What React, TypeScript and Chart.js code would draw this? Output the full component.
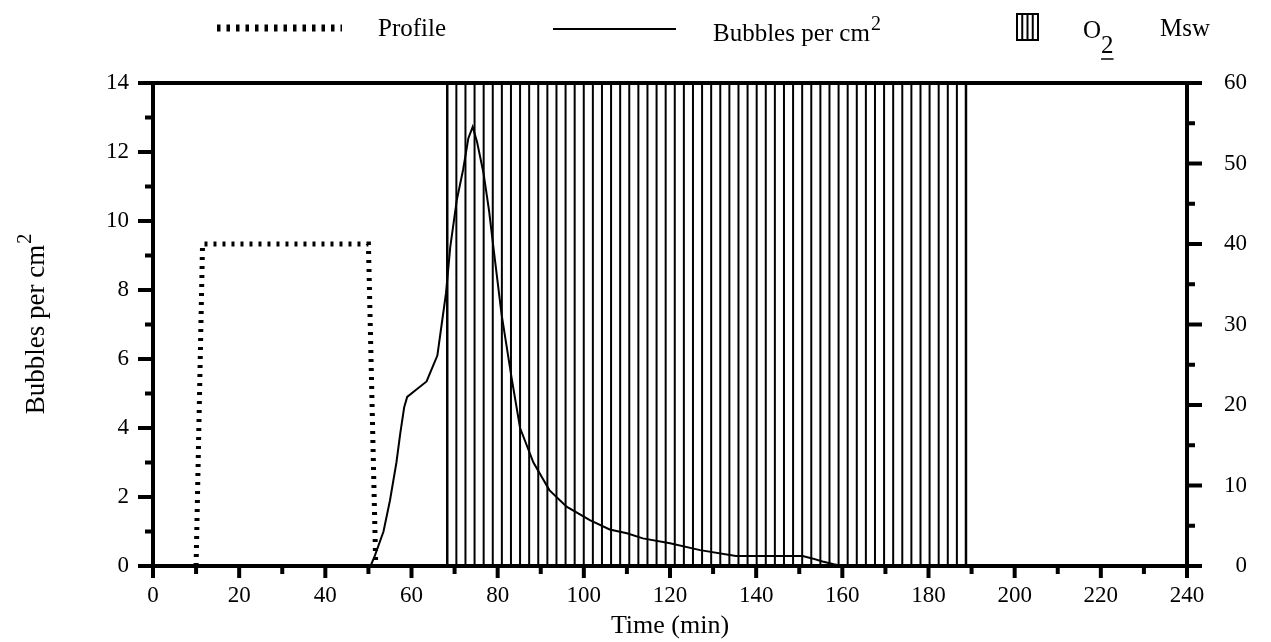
import React, { useEffect, useRef } from 'react';
import { Chart, registerables } from 'chart.js';

Chart.register(...registerables);

// ---------- data ----------
const X_MIN = 0;
const X_MAX = 240;
const X_MAJOR_STEP = 20;
const X_MINOR_STEP = 10;

const Y_MIN = 0;
const Y_MAX = 14;
const Y_MAJOR_STEP = 2;
const Y_MINOR_STEP = 1;

const MSW_MIN = 0;
const MSW_MAX = 60;
const MSW_MAJOR_STEP = 10;
const MSW_MINOR_STEP = 5;

// Dive profile (depth in msw, right axis)
const PROFILE_TIME = [10, 11.5, 50, 51.7];
const PROFILE_MSW = [0, 40, 40, 0];

// Bubbles per cm2 (left axis)
const BUBBLE_TIME = [
  50.5, 51.5, 53.5, 55, 56.5, 57.4, 58.3, 59, 61, 63.5, 65, 66, 67, 68, 69, 70.5, 72, 73.2,
  74.2, 75.2, 76.7, 78, 79, 80.9, 83.3, 85.2, 88.3, 92, 96, 101.4, 106, 110, 113.7, 120, 127,
  135.3, 150.8, 153, 155.4, 158, 160,
];
const BUBBLE_VALUES = [
  0, 0.3, 1.0, 1.9, 3.0, 3.85, 4.6, 4.9, 5.1, 5.35, 5.8, 6.1, 7.0, 7.9, 9.25, 10.6, 11.5, 12.4,
  12.73, 12.3, 11.4, 10.3, 9.25, 7.3, 5.4, 4.0, 3.0, 2.2, 1.72, 1.33, 1.06, 0.95, 0.8, 0.66, 0.46,
  0.29, 0.29, 0.22, 0.13, 0.05, 0,
];

// O2 breathing period (hatched)
const O2_START = 68.3;
const O2_END = 188.7;
const O2_LINES = 58;

const X_TITLE = 'Time (min)';
const Y_TITLE = 'Bubbles per cm';
const SUP_TWO = '2';
const LEGEND_PROFILE = 'Profile';
const LEGEND_BUBBLES = 'Bubbles per cm';
const LEGEND_O = 'O';
const LEGEND_MSW = 'Msw';

const FONT = "'Liberation Serif', 'Times New Roman', Times, serif";
const TICK_FONT_SIZE = 23;
const TITLE_FONT_SIZE = 25;
const Y_TITLE_FONT_SIZE = 27;

const customPlugin = {
  id: 'customDraw',
  beforeDatasetsDraw(chart: any) {
    const { ctx, chartArea, scales } = chart;
    const x0 = scales.x.getPixelForValue(O2_START);
    const x1 = scales.x.getPixelForValue(O2_END);
    ctx.save();
    ctx.strokeStyle = '#000';
    for (let i = 0; i < O2_LINES; i++) {
      const px = x0 + ((x1 - x0) * i) / (O2_LINES - 1);
      ctx.lineWidth = i === 0 || i === O2_LINES - 1 ? 2.5 : 2;
      ctx.beginPath();
      ctx.moveTo(px, chartArea.top);
      ctx.lineTo(px, chartArea.bottom);
      ctx.stroke();
    }
    ctx.restore();
  },
  afterDraw(chart: any) {
    const { ctx, chartArea, scales } = chart;
    const { left, right, top, bottom } = chartArea;
    ctx.save();
    ctx.strokeStyle = '#000';
    ctx.fillStyle = '#000';
    ctx.lineCap = 'butt';

    // frame
    ctx.lineWidth = 4;
    ctx.strokeRect(left, top, right - left, bottom - top);

    // x ticks (downward)
    for (let v = X_MIN; v <= X_MAX; v += X_MINOR_STEP) {
      const px = scales.x.getPixelForValue(v);
      const len = v % X_MAJOR_STEP === 0 ? 12 : 8;
      ctx.beginPath();
      ctx.moveTo(px, bottom);
      ctx.lineTo(px, bottom + len);
      ctx.stroke();
    }
    // left y ticks
    for (let v = Y_MIN; v <= Y_MAX; v += Y_MINOR_STEP) {
      const py = scales.y.getPixelForValue(v);
      const len = v % Y_MAJOR_STEP === 0 ? 15 : 8;
      ctx.beginPath();
      ctx.moveTo(left - len, py);
      ctx.lineTo(left, py);
      ctx.stroke();
    }
    // right y ticks
    for (let v = MSW_MIN; v <= MSW_MAX; v += MSW_MINOR_STEP) {
      const py = scales.y2.getPixelForValue(v);
      const len = v % MSW_MAJOR_STEP === 0 ? 15 : 8;
      ctx.beginPath();
      ctx.moveTo(right, py);
      ctx.lineTo(right + len, py);
      ctx.stroke();
    }

    // y title (rotated)
    ctx.save();
    const midY = (top + bottom) / 2;
    ctx.translate(35, midY);
    ctx.rotate(-Math.PI / 2);
    ctx.font = `${Y_TITLE_FONT_SIZE}px ${FONT}`;
    const mainW = ctx.measureText(Y_TITLE).width;
    ctx.font = `20px ${FONT}`;
    const supW = ctx.measureText(SUP_TWO).width;
    const totalW = mainW + supW;
    ctx.textBaseline = 'alphabetic';
    ctx.textAlign = 'left';
    ctx.font = `${Y_TITLE_FONT_SIZE}px ${FONT}`;
    ctx.fillText(Y_TITLE, -totalW / 2, 9);
    ctx.font = `20px ${FONT}`;
    ctx.fillText(SUP_TWO, -totalW / 2 + mainW + 1, -4);
    ctx.restore();

    // legend
    // profile sample
    ctx.save();
    ctx.lineWidth = 7;
    ctx.setLineDash([3.5, 6]);
    ctx.beginPath();
    ctx.moveTo(217, 28);
    ctx.lineTo(342, 28);
    ctx.stroke();
    ctx.restore();

    ctx.textAlign = 'left';
    ctx.textBaseline = 'alphabetic';
    ctx.font = `${TITLE_FONT_SIZE}px ${FONT}`;
    ctx.fillText(LEGEND_PROFILE, 378, 36);

    // bubbles sample
    ctx.lineWidth = 2;
    ctx.beginPath();
    ctx.moveTo(553, 29);
    ctx.lineTo(676, 29);
    ctx.stroke();

    ctx.font = `${TITLE_FONT_SIZE}px ${FONT}`;
    ctx.fillText(LEGEND_BUBBLES, 713, 41);
    const bw = ctx.measureText(LEGEND_BUBBLES).width;
    ctx.font = `20px ${FONT}`;
    ctx.fillText(SUP_TWO, 713 + bw + 1, 30);

    // hatch box
    ctx.lineWidth = 2;
    ctx.strokeRect(1017, 14, 21, 26);
    for (let i = 1; i < 4; i++) {
      const px = 1017 + (21 * i) / 4;
      ctx.beginPath();
      ctx.moveTo(px, 14);
      ctx.lineTo(px, 40);
      ctx.stroke();
    }

    // O2
    ctx.font = `${TITLE_FONT_SIZE}px ${FONT}`;
    ctx.fillText(LEGEND_O, 1083, 38);
    const ow = ctx.measureText(LEGEND_O).width;
    ctx.fillText(SUP_TWO, 1083 + ow, 53);
    const tw = ctx.measureText(SUP_TWO).width;
    ctx.lineWidth = 1.5;
    ctx.beginPath();
    ctx.moveTo(1083 + ow, 59);
    ctx.lineTo(1083 + ow + tw, 59);
    ctx.stroke();

    // Msw
    ctx.fillText(LEGEND_MSW, 1160, 36);

    ctx.restore();
  },
};

export default function App() {
  const canvasRef = useRef<HTMLCanvasElement | null>(null);

  useEffect(() => {
    document.body.style.margin = '0';
    document.body.style.overflow = 'hidden';
    const canvas = canvasRef.current;
    if (!canvas) return;

    const bubbleData = BUBBLE_TIME.map((t, i) => ({ x: t, y: BUBBLE_VALUES[i] }));
    const profileData = PROFILE_TIME.map((t, i) => ({ x: t, y: PROFILE_MSW[i] }));

    const tickFont = { family: FONT, size: TICK_FONT_SIZE };

    const chart = new Chart(canvas, {
      type: 'line',
      data: {
        datasets: [
          {
            label: 'Profile',
            data: profileData,
            yAxisID: 'y2',
            borderColor: '#000',
            borderWidth: 5,
            borderDash: [3, 6],
            borderCapStyle: 'butt',
            pointRadius: 0,
            tension: 0,
            fill: false,
          },
          {
            label: 'Bubbles per cm2',
            data: bubbleData,
            yAxisID: 'y',
            borderColor: '#000',
            borderWidth: 2,
            pointRadius: 0,
            tension: 0,
            fill: false,
          },
        ],
      },
      options: {
        responsive: false,
        animation: false,
        devicePixelRatio: 1,
        layout: { padding: { top: 83, left: 0, right: 24, bottom: 0 } },
        plugins: {
          legend: { display: false },
          tooltip: { enabled: false },
          title: { display: false },
        },
        scales: {
          x: {
            type: 'linear',
            min: X_MIN,
            max: X_MAX,
            afterFit: (s: any) => {
              s.height = 76;
            },
            grid: {
              display: true,
              drawOnChartArea: false,
              drawTicks: true,
              tickLength: 12,
              tickColor: 'rgba(0,0,0,0)',
            },
            border: { display: false },
            ticks: {
              stepSize: X_MINOR_STEP,
              autoSkip: false,
              maxRotation: 0,
              padding: 4,
              color: '#000',
              font: tickFont,
              callback: (v: any) => (Number(v) % X_MAJOR_STEP === 0 ? String(v) : ''),
            },
            title: {
              display: true,
              text: X_TITLE,
              color: '#000',
              font: { family: FONT, size: 26 },
              padding: { top: 0, bottom: 0 },
            },
          },
          y: {
            type: 'linear',
            position: 'left',
            min: Y_MIN,
            max: Y_MAX,
            afterFit: (s: any) => {
              s.width = 153;
            },
            grid: {
              display: true,
              drawOnChartArea: false,
              drawTicks: true,
              tickLength: 15,
              tickColor: 'rgba(0,0,0,0)',
            },
            border: { display: false },
            ticks: {
              stepSize: Y_MINOR_STEP,
              autoSkip: false,
              padding: 9,
              color: '#000',
              font: tickFont,
              callback: (v: any) => (Number(v) % Y_MAJOR_STEP === 0 ? String(v) : ''),
            },
          },
          y2: {
            type: 'linear',
            position: 'right',
            min: MSW_MIN,
            max: MSW_MAX,
            afterFit: (s: any) => {
              s.width = 60;
            },
            grid: {
              display: true,
              drawOnChartArea: false,
              drawTicks: true,
              tickLength: 15,
              tickColor: 'rgba(0,0,0,0)',
            },
            border: { display: false },
            ticks: {
              stepSize: MSW_MINOR_STEP,
              autoSkip: false,
              padding: 10,
              crossAlign: 'far',
              color: '#000',
              font: tickFont,
              callback: (v: any) => (Number(v) % MSW_MAJOR_STEP === 0 ? String(v) : ''),
            },
          },
        },
      },
      plugins: [customPlugin],
    } as any);

    return () => {
      chart.destroy();
    };
  }, []);

  return (
    <div style={{ width: 1271, height: 642, position: 'relative', background: '#fff' }}>
      <canvas ref={canvasRef} width={1271} height={642} style={{ display: 'block' }} />
    </div>
  );
}
